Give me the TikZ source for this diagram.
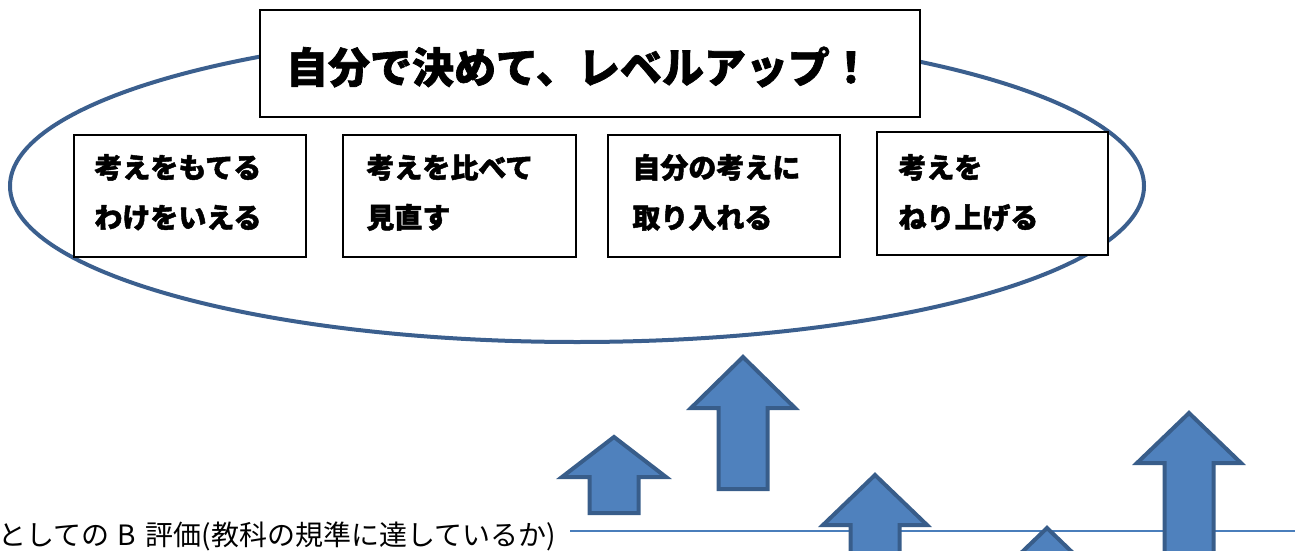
\documentclass[tikz,border=0pt]{standalone}
\usepackage{fontspec}
\newfontfamily\cjk{Noto Sans CJK JP}[FakeBold=1.6]
\newfontfamily\cjkp{Noto Sans CJK JP}[CharacterWidth=Proportional]
\definecolor{arrfill}{HTML}{4F81BD}
\definecolor{arrline}{HTML}{385D8A}
\definecolor{ellline}{HTML}{3B5F8E}
\definecolor{hline}{HTML}{4A7EBB}
\newcommand\myUpArrow[4]{%
  \draw[arr] (#1,#2) -- (#1+52,#3) -- (#1+24.5,#3) -- (#1+24.5,#4)
    -- (#1-24.5,#4) -- (#1-24.5,#3) -- (#1-52,#3) -- cycle;}
\begin{document}
\begin{tikzpicture}[x=0.5pt,y=-0.5pt,
  box/.style={draw=black, line width=0.6pt, fill=white, inner sep=0pt},
  lbl/.style={font=\cjk\bfseries\fontsize{14}{16}\selectfont, anchor=base west, inner sep=0pt},
  arr/.style={draw=arrline, line width=2pt, fill=arrfill, line join=miter},
  ell/.style={draw=ellline, line width=2pt}]
\useasboundingbox (0,0) rectangle (1295,551);
% ellipse
\draw[ell] (577,186) ellipse [x radius=567, y radius=156];
% title
\node[box, minimum width=330pt, minimum height=53.5pt] (title) at (590,63.5) {};
\node[font=\cjk\bfseries\fontsize{21}{24}\selectfont, inner sep=0pt] (titletext) at (579,67) {自分で決めて、レベルアップ！};
% boxes
\node[box, minimum width=116pt, minimum height=61pt] (b1) at (190,196) {};
\node[box, minimum width=116.5pt, minimum height=61pt] (b2) at (459.5,196) {};
\node[box, minimum width=116pt, minimum height=61pt] (b3) at (724,196) {};
\node[box, minimum width=115.5pt, minimum height=61.5pt] (b4) at (992.5,193.5) {};
\node[lbl] (t1a) at (94,178) {考えをもてる};
\node[lbl] (t1b) at (94,228) {わけをいえる};
\node[lbl] (t2a) at (366,178) {考えを比べて};
\node[lbl] (t2b) at (366,228) {見直す};
\node[lbl] (t3a) at (632,178) {自分の考えに};
\node[lbl] (t3b) at (632,228) {取り入れる};
\node[lbl] (t4a) at (898,178) {考えを};
\node[lbl] (t4b) at (898,228) {ねり上げる};
% horizontal line and label
\coordinate (ls) at (570,531);
\coordinate (le) at (1295,531);
\draw[hline, line width=1pt] (ls) -- (le);
\node[font=\cjkp\fontsize{14}{16}\selectfont, anchor=base west, inner sep=0pt] (blabel) at (-2,545) {としての\hspace{4pt}B\hspace{5pt}評価(教科の規準に達しているか)};
% arrows
\myUpArrow{614}{437}{477}{513}
\myUpArrow{743}{357}{408}{489}
\myUpArrow{875}{475}{525}{600}
\myUpArrow{1047}{528}{578}{650}
\myUpArrow{1189}{413}{463}{600}
\end{tikzpicture}
\end{document}
